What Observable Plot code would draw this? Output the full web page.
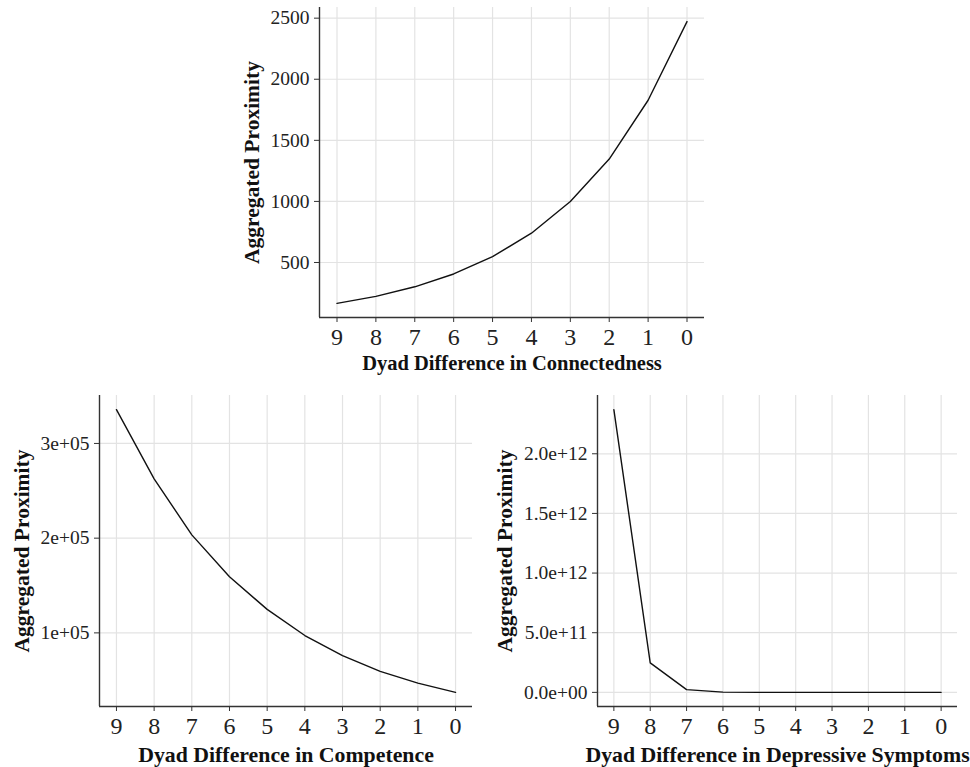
<!DOCTYPE html>
<html><head><meta charset="utf-8">
<script src="https://cdn.jsdelivr.net/npm/d3@7"></script>
<script src="https://cdn.jsdelivr.net/npm/@observablehq/plot@0.6"></script>
<style>
body{margin:0;background:#fff;}
#wrap{position:relative;width:970px;height:767px;overflow:hidden;}
#wrap > .panel{position:absolute;}
#wrap svg{overflow:visible;}
</style></head><body><div id="wrap"></div>
<script>
const diffs = [9, 8, 7, 6, 5, 4, 3, 2, 1, 0];
const connectedness = [165, 223, 301, 406, 548, 740, 999, 1347, 1828, 2472];
const competence = [335700, 262600, 203500, 159300, 124800, 97200, 76000, 59400, 47000, 37200];
const depressive = [2.37e12, 2.47e11, 2.3e10, 2.4e9, 2.5e8, 2.6e7, 2.7e6, 2.8e5, 2.9e4, 3.0e3];
const yTitle = "Aggregated Proximity";
const xTitles = ["Dyad Difference in Connectedness", "Dyad Difference in Competence", "Dyad Difference in Depressive Symptoms"];
const connTicks = [500, 1000, 1500, 2000, 2500];
const compTicks = [100000, 200000, 300000];
const depTicks = [0, 5e11, 1e12, 1.5e12, 2e12];

const FONT = "'Liberation Serif', 'Times New Roman', serif";
const sci = (digits) => (d) => {
  const s = digits == null ? d.toExponential() : d.toExponential(digits);
  return s.replace(/e([+-])(\d)$/, "e$10$2");
};

function panel({values, ticks, fmt, xTitle, left, top, width, height, ml, mr, mt, mb, yDx, xDy, xFs, yFs}) {
  const data = diffs.map((d, i) => ({d, v: values[i]}));
  const lo = d3.min(values), hi = d3.max(values), sp = hi - lo;
  const yDom = [lo - 0.05 * sp, hi + 0.05 * sp];
  const xDom = [9.45, -0.45];
  const p = Plot.plot({
    width, height,
    marginLeft: ml, marginRight: mr, marginTop: mt, marginBottom: mb,
    style: {fontFamily: FONT, background: "white", color: "#222"},
    x: {domain: xDom, axis: null},
    y: {domain: yDom, axis: null},
    marks: [
      Plot.gridY(ticks, {stroke: "#e3e3e3", strokeOpacity: 1, strokeWidth: 1.2}),
      Plot.gridX(diffs, {stroke: "#e3e3e3", strokeOpacity: 1, strokeWidth: 1.2}),
      Plot.line(data, {x: "d", y: "v", stroke: "#111", strokeWidth: 1.4}),
      Plot.ruleX([xDom[0]], {stroke: "#333", strokeWidth: 1.4}),
      Plot.ruleY([yDom[0]], {stroke: "#333", strokeWidth: 1.4}),
      Plot.axisY(ticks, {tickFormat: fmt, tickSize: 5, tickPadding: 5, fontSize: 19.5, fill: "#222", stroke: "#333", label: null}),
      Plot.axisX(diffs, {tickSize: 5, tickPadding: 5, fontSize: 24, fill: "#222", stroke: "#333", label: null}),
      Plot.text([yTitle], {frameAnchor: "left", rotate: -90, dx: yDx, text: d => d, fontSize: yFs, fontWeight: "bold", fill: "#111", textAnchor: "middle", lineAnchor: "middle"}),
      Plot.text([xTitle], {frameAnchor: "bottom", dy: xDy, text: d => d, fontSize: xFs, fontWeight: "bold", fill: "#111", textAnchor: "middle", lineAnchor: "middle"})
    ]
  });
  const div = document.createElement("div");
  div.className = "panel";
  div.style.left = left + "px";
  div.style.top = top + "px";
  div.appendChild(p);
  document.getElementById("wrap").appendChild(div);
}

panel({values: connectedness, ticks: connTicks, fmt: d => String(d), xTitle: xTitles[0],
  left: 230, top: 0, width: 490, height: 380, ml: 89, mr: 16, mt: 7, mb: 63, yDx: -67, xDy: 46, xFs: 20.5, yFs: 21.5});
panel({values: competence, ticks: compTicks, fmt: sci(null), xTitle: xTitles[1],
  left: 0, top: 385, width: 480, height: 382, ml: 99, mr: 8, mt: 10, mb: 61, yDx: -77, xDy: 49, xFs: 21.8, yFs: 21.5});
panel({values: depressive, ticks: depTicks, fmt: sci(1), xTitle: xTitles[2],
  left: 480, top: 385, width: 490, height: 382, ml: 117, mr: 13, mt: 10, mb: 61, yDx: -92, xDy: 49, xFs: 21.8, yFs: 21.5});
</script></body></html>
